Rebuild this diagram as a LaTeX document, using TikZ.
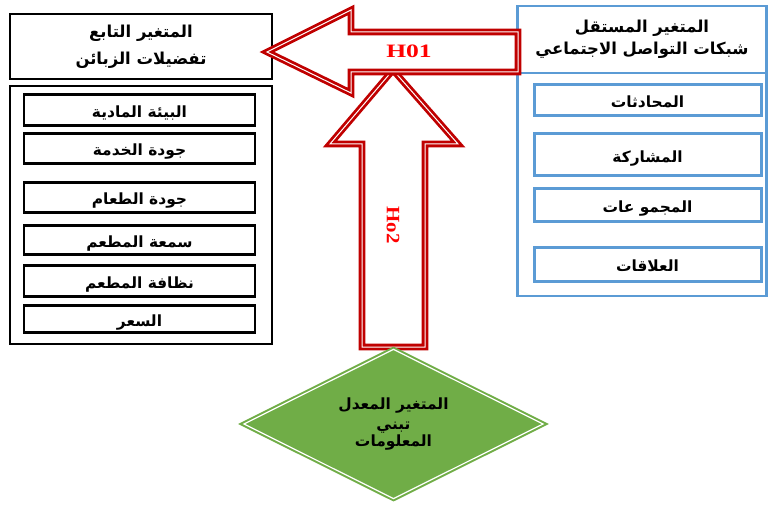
\documentclass[tikz,border=0pt]{standalone}
\usepackage{fontspec}
\setmainfont{Liberation Serif}
\newfontfamily\arabicfont[Script=Arabic]{DejaVu Sans}
\TeXXeTstate=1
\usetikzlibrary{shapes.geometric}
\definecolor{hred}{HTML}{C00000}
\definecolor{hblue}{HTML}{5B9BD5}
\definecolor{hgreen}{HTML}{70AD47}
\newcommand{\artxt}[1]{\beginR #1\endR}
\begin{document}
\begin{tikzpicture}[x=1bp,y=-1bp,line join=miter]
    \tikzset{arab/.style={font=\arabicfont\bfseries\fontsize{15.5}{21}\selectfont,text=black},
        arabtitle/.style={font=\arabicfont\bfseries\fontsize{16.5}{22}\selectfont,text=black},
        blackbox/.style={arab,draw=black,line width=2.6bp,minimum width=231bp,inner sep=0pt,text height=15bp,text depth=0bp},
        bluebox/.style={arab,draw=hblue,line width=3bp,minimum width=227bp,inner sep=0pt,text height=15bp,text depth=0bp},
        bigarrow/.style={draw=hred,line width=2.8bp,double=white,double distance=1bp,fill=white},
        hlabel/.style={text=red,font=\bfseries\fontsize{19}{19}\selectfont}}
    \useasboundingbox (0,0) rectangle (769,506);
    % dependent variable
    \node[arabtitle,draw=black,line width=2.6bp,minimum width=262bp,minimum height=65bp,align=center] (dep) at (141,46.5)
        {\artxt{المتغير التابع}\\[5pt]\artxt{تفضيلات الزبائن}};
    \node[draw=black,line width=2.6bp,minimum width=262bp,minimum height=258bp] (deplist) at (141,215) {};
    \foreach \y/\h/\t [count=\i] in {110/31/البيئة المادية,148.5/30/جودة الخدمة,197.5/30/جودة الطعام,
        240/29/سمعة المطعم,281/31/نظافة المطعم,319/27/السعر}
    \node[blackbox,minimum height=\h bp] (f\i) at (139.5,\y) {\artxt{\t}};
    % independent variable
    \node[draw=hblue,line width=2.6bp,minimum width=249bp,minimum height=290bp] (indep) at (642,151) {};
    \draw[hblue,line width=2.6bp] (517,73) -- (767,73);
    \node[arabtitle,align=center] (indeptitle) at (642,39) {\artxt{المتغير المستقل}\\\artxt{شبكات التواصل الاجتماعي}};
    \foreach \y/\h/\t [count=\i] in {100.5/31/المحادثات,155/42/المشاركة,205.5/33/المجمو عات,264.5/33/العلاقات}
    \node[bluebox,minimum height=\h bp] (s\i) at (647.5,\y) {\artxt{\t}};
    % hypotheses
    \draw[bigarrow] (393,70) -- (458,144) -- (425,144) -- (425,347) -- (362,347) -- (362,144) -- (330,144) -- cycle;
    \draw[bigarrow] (267,52) -- (351,10) -- (351,32) -- (518,32) -- (518,72) -- (351,72) -- (351,93) -- cycle;
    \node[hlabel] (h1) at (409,51) {\scalebox{1.35}[1]{H01}};
    \node[hlabel,rotate=-90] (h2) at (393,225) {\scalebox{1.1}[1]{Ho2}};
    % moderator
    \node[diamond,aspect=2,draw=hgreen,line width=2bp,double=white,double distance=1.2bp,fill=hgreen,
        minimum width=300bp,minimum height=150bp,inner sep=0pt,arab,align=center] (mod) at (393.5,424)
        {\artxt{المتغير المعدل}\\[-1pt]\artxt{تبني}\\[-4pt]\artxt{المعلومات}};
\end{tikzpicture}
\end{document}
